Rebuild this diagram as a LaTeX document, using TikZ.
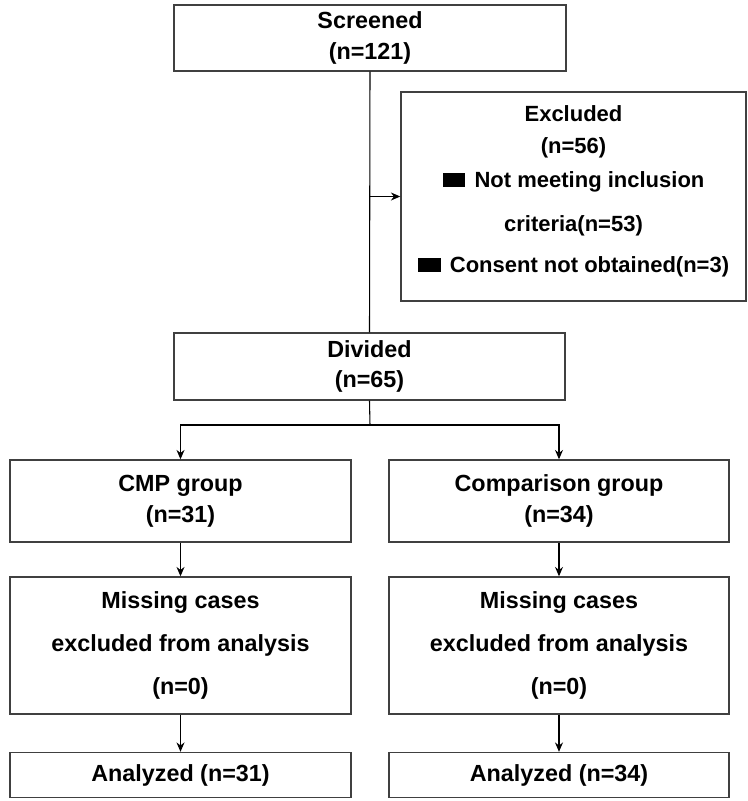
\documentclass[tikz,border=0pt]{standalone}
\usepackage{fontspec}
\setmainfont{Liberation Sans}
\usetikzlibrary{arrows.meta}

\tikzset{
    box/.style={draw=black!75, line width=1.1pt, inner sep=0pt, align=center,
        font=\bfseries\fontsize{17.5}{23}\selectfont},
    smallbox/.style={box, font=\bfseries\fontsize{16.5}{25}\selectfont},
    link/.style={line width=0.8pt},
    arr/.style={line width=0.8pt, -{Stealth[length=7pt, width=6pt]}}
}
\newcommand{\blk}{\rule{17pt}{10.5pt}\hspace{7pt}}

\begin{document}
\begin{tikzpicture}[x=0.75pt, y=-0.75pt]
    \useasboundingbox (0,0) rectangle (748,801);

    % Boxes
    \node [box, minimum width=294pt, minimum height=49.5pt] (screen) at (370,38) {Screened\\(n=121)};
    \node [smallbox, minimum width=258.75pt, minimum height=156.75pt] (excl) at (573.5,196.5)
        {Excluded\\[-1pt](n=56)\\[0pt]\blk Not meeting inclusion\\[8pt]criteria(n=53)\\[6pt]\blk Consent not obtained(n=3)\\[-14pt]\mbox{}};
    \node [box, minimum width=293.25pt, minimum height=50.25pt] (divide) at (369.5,366.5) {Divided\\(n=65)};
    \node [box, minimum width=255.75pt, minimum height=61.5pt] (cmp) at (180.5,501) {CMP group\\(n=31)};
    \node [box, minimum width=255pt, minimum height=61.5pt] (comp) at (559,501) {Comparison group\\(n=34)};
    \node [box, minimum width=255.75pt, minimum height=102.75pt] (miss1) at (180.5,645.5)
        {Missing cases\\[9pt]excluded from analysis\\[9pt](n=0)};
    \node [box, minimum width=255pt, minimum height=102.75pt] (miss2) at (559,645.5)
        {Missing cases\\[9pt]excluded from analysis\\[9pt](n=0)};
    \node [box, minimum width=255.75pt, minimum height=33.75pt] (ana1) at (180.5,775) {Analyzed (n=31)};
    \node [box, minimum width=255pt, minimum height=33.75pt] (ana2) at (559,775) {Analyzed (n=34)};
    \coordinate (split) at (370,425);

    % Arrows and lines
    \draw [link] (screen.south) -- (divide.north);
    \draw [arr] (screen.south |- excl.west) -- (excl.west);
    \draw [link] (divide.south) -- (split);
    \draw [arr] (split) -| (cmp.north);
    \draw [arr] (split) -| (comp.north);
    \draw [arr] (cmp) -- (miss1);
    \draw [arr] (comp) -- (miss2);
    \draw [arr] (miss1) -- (ana1);
    \draw [arr] (miss2) -- (ana2);
\end{tikzpicture}
\end{document}
